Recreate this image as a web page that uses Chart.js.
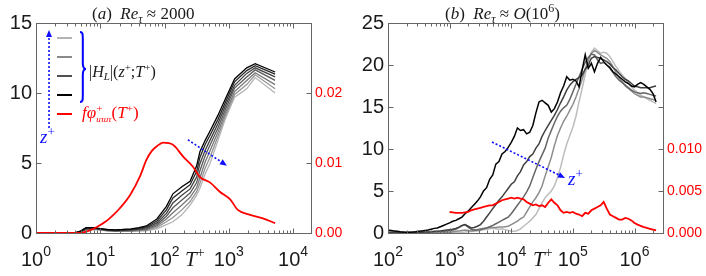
<!DOCTYPE html>
<html><head><meta charset="utf-8">
<script src="https://cdn.jsdelivr.net/npm/chart.js@4.4.1/dist/chart.umd.min.js"></script>
<style>
html,body{margin:0;padding:0;background:#fff;}
#wrap{position:relative;width:706px;height:276px;overflow:hidden;background:#fff;}
canvas{position:absolute;top:0;}
#ca{left:0;}
#cb{left:353px;}
</style></head><body>
<div id="wrap"><canvas id="ca" width="353" height="276"></canvas><canvas id="cb" width="353" height="276"></canvas></div>
<script>
// ---------------- Panel (a) data ----------------
const tA = [1,2,3,4,5,6,8,10,13,17,22,30,40,52,76,107,135,186,250,316,355,427,513,676,890,1230,1900,2570,5250];
const hA1 = [0,0,0,0,0.15,0.38,0.38,0.32,0.25,0.22,0.25,0.3,0.38,0.5,1.0,1.9,2.8,3.3,3.7,4.8,5.8,6.6,7.3,8.4,9.6,11.0,11.8,12.1,11.5];
const hA2 = [0,0,0,0,0.13,0.35,0.36,0.3,0.23,0.2,0.22,0.26,0.33,0.43,0.85,1.65,2.5,3.0,3.45,4.4,5.4,6.3,7.0,8.1,9.35,10.8,11.6,11.95,11.35];
const hA3 = [0,0,0,0,0.11,0.32,0.34,0.28,0.21,0.18,0.19,0.22,0.28,0.36,0.72,1.4,2.15,2.7,3.15,4.0,4.95,5.9,6.65,7.8,9.1,10.55,11.4,11.8,11.15];
const hA4 = [0,0,0,0,0.1,0.29,0.31,0.26,0.2,0.16,0.17,0.19,0.24,0.3,0.6,1.2,1.8,2.35,2.85,3.6,4.45,5.5,6.3,7.5,8.85,10.35,11.15,11.65,10.9];
const hA5 = [0,0,0,0,0.08,0.26,0.29,0.24,0.18,0.15,0.15,0.16,0.2,0.25,0.5,1.0,1.45,2.0,2.55,3.25,3.95,5.05,5.9,7.2,8.6,10.1,10.9,11.45,10.6];
const hA6 = [0,0,0,0,0.07,0.23,0.27,0.22,0.16,0.13,0.13,0.14,0.17,0.2,0.4,0.8,1.1,1.65,2.25,2.95,3.55,4.6,5.45,6.9,8.4,9.9,10.6,11.3,10.3];
const hA7 = [0,0,0,0,0.05,0.2,0.25,0.2,0.15,0.12,0.12,0.12,0.14,0.16,0.3,0.6,0.8,1.3,2.0,2.7,3.2,4.2,5.0,6.6,8.2,9.7,10.3,11.1,10.0];
const redAT = [1,2,3,4,4.8,6,7,9,12,16,20,29,42,52,63,76,95,135,195,275,355,513,724,1050,1380,2140,3390,5250];
const redAV = [0,0,0,0,0,0.0002,0.0004,0.0009,0.0016,0.0026,0.0035,0.0054,0.0082,0.0104,0.0117,0.0124,0.0129,0.0126,0.0109,0.0095,0.008,0.0072,0.0059,0.0048,0.0033,0.0026,0.0021,0.0014];
const xExpA = [0,1,2,3,4];
const yTicksA = [0,5,10,15];
const yRightTicksA = [0,0.01,0.02];

// ---------------- Panel (b) data ----------------
const tB = [100,112,126,141,158,178,200,224,251,282,
  316,355,398,447,501,562,631,708,794,891,
  1000,1122,1259,1413,1585,1778,1995,2239,2512,2818,
  3162,3548,3981,4467,5012,5623,6310,7079,7943,8913,
  10000,11220,12589,14125,15849,17783,19953,22387,25119,28184,
  31623,35481,39811,44668,50119,56234,63096,70795,79433,89125,
  1.0e5,1.122e5,1.259e5,1.413e5,1.585e5,1.778e5,1.995e5,2.239e5,2.512e5,2.818e5,
  3.162e5,3.548e5,3.981e5,4.467e5,5.012e5,5.623e5,6.310e5,7.079e5,7.943e5,8.913e5,
  1.0e6,1.122e6,1.259e6,1.413e6,1.585e6,1.778e6,1.995e6,2.239e6];
const hB1 = [0.35,0.3,0.25,0.2,0.15,0.12,0.1,0.1,0.12,0.15,
  0.2,0.25,0.3,0.35,0.45,0.55,0.6,0.75,0.9,1.05,
  1.2,1.4,1.5,1.7,1.9,2.3,2.6,3.0,3.4,3.8,
  4.3,5.0,5.4,6.4,6.9,8.2,8.5,9.4,9.7,10.2,
  10.8,11.5,12.5,12.2,12.3,11.8,12.0,12.8,14.3,15.6,
  15.8,15.5,15.2,14.4,14.8,15.6,16.7,17.5,18.6,18.2,
  18.3,18.1,17.4,19.4,21.2,19.6,20.2,19.2,20.2,20.9,
  20.4,20.0,19.7,19.2,18.9,18.6,18.3,18.0,17.8,17.5,
  17.4,17.7,17.9,17.7,17.4,17.1,16.6,15.6];
const hB2 = [0.1,0.1,0.08,0.08,0.06,0.06,0.05,0.05,0.06,0.08,
  0.1,0.1,0.12,0.13,0.15,0.2,0.22,0.25,0.3,0.35,
  0.4,0.45,0.55,0.7,0.9,1.0,0.8,0.6,0.65,0.8,
  1.0,1.4,1.9,2.4,2.9,3.4,3.9,4.3,4.8,5.3,
  5.8,6.1,6.8,7.3,8.1,8.5,9.1,9.4,10.1,10.6,
  11.5,12.2,12.8,13.4,14.0,14.7,15.5,16.2,17.0,17.6,
  18.0,18.3,18.5,18.8,19.5,20.0,20.8,21.0,20.9,20.8,
  20.6,20.4,20.1,19.7,19.4,19.0,18.6,18.3,18.1,17.8,
  17.5,17.4,17.3,17.3,17.3,17.3,17.4,17.5];
const hB3 = [0.05,0.05,0.05,0.05,0.05,0.05,0.05,0.05,0.05,0.05,
  0.06,0.06,0.08,0.1,0.12,0.15,0.18,0.2,0.22,0.25,
  0.3,0.35,0.45,0.65,0.85,1.0,0.7,0.45,0.35,0.35,
  0.4,0.5,0.6,0.75,0.9,1.1,1.3,1.5,1.7,1.9,
  2.3,2.8,3.3,3.8,4.3,4.9,5.6,6.6,7.6,8.5,
  9.3,10.1,11.3,12.2,13.1,13.9,14.5,14.9,15.2,15.9,
  16.8,17.7,18.6,19.5,20.3,20.9,21.3,21.2,20.6,20.2,
  20.3,20.0,19.6,19.1,18.6,18.2,17.9,17.6,17.3,17.0,
  16.8,16.7,16.6,16.7,16.6,16.5,16.4,16.3];
const hB4 = [0.03,0.03,0.03,0.03,0.03,0.03,0.03,0.03,0.03,0.03,
  0.04,0.04,0.05,0.05,0.06,0.06,0.07,0.08,0.09,0.1,
  0.1,0.15,0.2,0.25,0.3,0.35,0.3,0.25,0.3,0.4,
  0.5,0.55,0.6,0.65,0.65,0.65,0.7,0.7,0.75,0.8,
  1.0,1.2,1.4,1.7,1.9,2.5,3.1,3.7,4.2,4.8,
  5.6,6.8,7.9,9.0,10.4,11.6,12.5,13.3,13.9,14.6,
  15.3,16.2,17.2,18.3,19.5,20.6,21.4,21.7,21.5,21.2,
  21.0,20.8,20.4,19.8,19.1,18.5,18.0,17.5,17.2,16.9,
  16.6,16.4,16.2,16.2,16.1,16.0,15.9,15.8];
const hB5 = [0.02,0.02,0.02,0.02,0.02,0.02,0.02,0.02,0.02,0.02,
  0.02,0.02,0.03,0.03,0.03,0.04,0.04,0.04,0.05,0.05,
  0.05,0.06,0.07,0.08,0.1,0.12,0.15,0.17,0.2,0.25,
  0.3,0.4,0.45,0.5,0.55,0.5,0.45,0.5,0.4,0.3,
  0.2,0.2,0.3,0.5,0.8,1.1,1.4,1.8,2.2,2.9,
  3.6,4.2,4.6,5.0,5.6,6.6,7.8,9.3,10.6,11.6,
  12.6,13.9,15.6,17.2,18.9,20.4,21.5,22.0,21.7,21.4,
  21.5,21.4,21.0,20.4,19.8,19.3,18.8,18.4,17.8,17.4,
  17.0,16.7,16.4,16.2,16.0,15.8,15.6,15.4];
const redBV = [null,null,null,null,null,null,null,null,null,null,
  null,null,null,null,null,null,null,null,null,null,
  0.0025,0.00245,0.0024,0.0024,0.0024,0.00245,0.0025,0.0027,0.0028,0.0029,
  0.0030,0.0031,0.0032,0.0033,0.0033,0.0035,0.0037,0.0039,0.0040,0.0041,
  0.0042,0.0041,0.0042,0.0041,0.0040,0.0037,0.0035,0.0033,0.0034,0.0032,
  0.0033,0.0031,0.0036,0.0040,0.0036,0.0033,0.0027,0.0024,0.0025,0.0024,
  0.0025,0.0023,0.0022,0.0020,0.0024,0.0023,0.0027,0.0029,0.0031,0.0033,
  0.0037,0.0029,0.0022,0.0020,0.0018,0.0016,0.0016,0.0018,0.0017,0.0015,
  0.0012,0.0010,0.00085,0.0007,0.0006,0.0005,0.0004,0.0003];
const xExpB = [2,3,4,5,6];
const yTicksB = [0,5,10,15,20,25];
const yRightTicksB = [0,0.005,0.01];

// annotation anchors (data coordinates)
const arrowA = {x0:231, y0:6.66, x1:934, y1:4.81};
const arrowB = {x0:4875, y0:10.83, x1:74600, y1:6.55};

const SERIF = '"Liberation Serif","DejaVu Serif",serif';
const SANS = '"Liberation Sans",Arial,sans-serif';
const F = (sz, it, fam) => (it ? 'italic ' : '') + sz + 'px ' + (fam || SERIF);
const BLUE = '#1010ff';

function rich(ctx, x, y, segs, color, align) {
  let cx = 0, ps = 0, pe = 0; const items = [];
  for (const s of segs) {
    ctx.font = s[1];
    const w = ctx.measureText(s[0]).width;
    const back = s[3];
    const sx = back ? ps : cx;
    const end = sx + w;
    items.push([s[0], s[1], s[2] || 0, sx]);
    if (back) { pe = Math.max(pe, end); cx = pe; } else { ps = sx; pe = end; cx = end; }
  }
  const ox = align === 'center' ? x - cx / 2 : (align === 'right' ? x - cx : x);
  ctx.fillStyle = color; ctx.textBaseline = 'alphabetic'; ctx.textAlign = 'left';
  for (const it of items) { ctx.font = it[1]; ctx.fillText(it[0], ox + it[3], y + it[2]); }
  return cx;
}

function arrow(ctx, x0, y0, x1, y1, color) {
  ctx.save();
  ctx.strokeStyle = color; ctx.fillStyle = color; ctx.lineWidth = 1.6;
  ctx.setLineDash([2, 2]);
  const ang = Math.atan2(y1 - y0, x1 - x0);
  const hl = 7, hw = 3;
  const bx = x1 - hl * Math.cos(ang), by = y1 - hl * Math.sin(ang);
  ctx.beginPath(); ctx.moveTo(x0, y0); ctx.lineTo(bx, by); ctx.stroke();
  ctx.setLineDash([]);
  ctx.beginPath(); ctx.moveTo(x1, y1);
  ctx.lineTo(bx + hw * Math.sin(ang), by - hw * Math.cos(ang));
  ctx.lineTo(bx - hw * Math.sin(ang), by + hw * Math.cos(ang));
  ctx.closePath(); ctx.fill();
  ctx.restore();
}

function panelPlugin(cfg) {
  return {
    id: 'panel_' + cfg.name,
    afterDraw(chart) {
      const ctx = chart.ctx, a = chart.chartArea;
      const xs = chart.scales.x, ys = chart.scales.y;
      ctx.save();
      const L = Math.round(a.left) + 0.5, R = Math.round(a.right) + 0.5;
      const T = Math.round(a.top) + 0.5, B = Math.round(a.bottom) + 0.5;
      ctx.strokeStyle = '#666666'; ctx.lineWidth = 1;
      ctx.strokeRect(L, T, R - L, B - T);
      ctx.beginPath();
      const lo = Math.floor(Math.log10(xs.min)), hi = Math.ceil(Math.log10(xs.max));
      for (let d = lo; d <= hi; d++) {
        for (let m = 1; m <= 9; m++) {
          const v = m * Math.pow(10, d);
          if (v < xs.min * 0.999 || v > xs.max * 1.001) continue;
          const px = Math.round(xs.getPixelForValue(v)) + 0.5;
          const len = m === 1 ? 5 : 3;
          ctx.moveTo(px, B); ctx.lineTo(px, B - len);
          ctx.moveTo(px, T); ctx.lineTo(px, T + len);
        }
      }
      for (const v of cfg.yTicks) {
        const py = Math.round(ys.getPixelForValue(v)) + 0.5;
        ctx.moveTo(L, py); ctx.lineTo(L + 5, py);
        ctx.moveTo(R, py); ctx.lineTo(R - 5, py);
      }
      ctx.stroke();
      for (const e of cfg.xExp) {
        const px = xs.getPixelForValue(Math.pow(10, e));
        rich(ctx, px, 266, [['10', '20px ' + SANS, 0], [String(e), '14px ' + SANS, -10]], '#1a1a1a', 'center');
      }
      rich(ctx, cfg.tLabelX, 266, [['T', F(21, true), 0], ['+', F(14, false), -9]], '#1a1a1a', 'left');
      rich(ctx, cfg.titleX, 19, cfg.title, '#1a1a1a', 'left');
      cfg.extra(ctx, chart);
      ctx.restore();
    }
  };
}

function makeChart(id, cfg) {
  const datasets = [];
  datasets.push({
    data: cfg.redT.map((t, i) => ({x: t, y: cfg.redV[i]})),
    borderColor: '#ff0000', borderWidth: 1.8, pointRadius: 0, yAxisID: 'y2', spanGaps: false,
    cubicInterpolationMode: cfg.redSmooth ? 'monotone' : 'default', tension: 0
  });
  cfg.series.forEach((s, k) => {
    datasets.push({
      data: cfg.t.map((t, i) => ({x: t, y: s[i]})),
      borderColor: cfg.colors[k], borderWidth: cfg.lw, pointRadius: 0, yAxisID: 'y'
    });
  });
  return new Chart(document.getElementById(id), {
    type: 'line',
    data: {datasets},
    options: {
      responsive: false, animation: false, events: [],
      layout: {padding: {top: 23, left: 0, right: 0, bottom: 0}},
      plugins: {legend: {display: false}, tooltip: {enabled: false}, title: {display: false}},
      scales: {
        x: {type: 'logarithmic', min: cfg.xmin, max: cfg.xmax,
            grid: {display: false, drawTicks: false}, border: {display: false},
            ticks: {display: false}, afterFit: s => { s.height = 43; }},
        y: {type: 'linear', position: 'left', min: 0, max: cfg.ymax,
            grid: {display: false, drawTicks: false}, border: {display: false},
            afterBuildTicks: s => { s.ticks = cfg.yTicks.map(v => ({value: v})); },
            ticks: {padding: 4, color: '#1a1a1a', font: {family: '"Liberation Sans",Arial,sans-serif', size: 20},
                    callback: v => String(v)},
            afterFit: s => { s.width = cfg.leftW; }},
        y2: {type: 'linear', position: 'right', min: 0, max: cfg.y2max,
            grid: {display: false, drawTicks: false}, border: {display: false},
            afterBuildTicks: s => { s.ticks = cfg.rightTicks.map(v => ({value: v})); },
            ticks: {padding: 4, color: '#ff0000', font: {family: '"Liberation Sans",Arial,sans-serif', size: 14},
                    callback: v => v.toFixed(cfg.rightDec)},
            afterFit: s => { s.width = cfg.rightW; }}
      }
    },
    plugins: [panelPlugin(cfg)]
  });
}

makeChart('ca', {
  name: 'a', t: tA, series: [hA1, hA2, hA3, hA4, hA5, hA6, hA7],
  colors: ['#000000', '#262626', '#404040', '#5a5a5a', '#777777', '#949494', '#b4b4b4'], lw: 1.3,
  redT: redAT, redV: redAV, redSmooth: true,
  xmin: 1, xmax: 1.9e4, ymax: 15, y2max: 0.03, yTicks: yTicksA, rightTicks: yRightTicksA, rightDec: 2,
  leftW: 36, rightW: 42, xExp: xExpA, tLabelX: 185, titleX: 92,
  title: [['(', F(17), 0], ['a', F(17, true), 0], [')', F(17), 0], ['  ', F(17), 0], ['Re', F(17, true), 0],
          ['τ', F(12, true), 4], [' ≈ ', F(17), 0], ['2000', F(17), 0]],
  extra(ctx, chart) {
    const xs = chart.scales.x, ys = chart.scales.y;
    const legY = [38, 57, 76, 95];
    const legC = ['#b4b4b4', '#8a8a8a', '#505050', '#000000'];
    ctx.lineWidth = 2;
    legY.forEach((y, i) => { ctx.strokeStyle = legC[i]; ctx.beginPath(); ctx.moveTo(57, y); ctx.lineTo(72, y); ctx.stroke(); });
    ctx.strokeStyle = '#ff0000'; ctx.beginPath(); ctx.moveTo(57, 114); ctx.lineTo(72, 114); ctx.stroke();
    ctx.strokeStyle = '#0000ff'; ctx.lineWidth = 2;
    const bx = 80, y0 = 32, y1 = 102, ym = 69, w = 6, mx = bx + 2.8;
    ctx.beginPath();
    ctx.moveTo(bx, y0); ctx.bezierCurveTo(mx, y0, mx, y0 + 2, mx, y0 + 7);
    ctx.lineTo(mx, ym - 6); ctx.bezierCurveTo(mx, ym - 2, mx + 1, ym, bx + w, ym);
    ctx.moveTo(bx + w, ym); ctx.bezierCurveTo(mx + 1, ym, mx, ym + 2, mx, ym + 6);
    ctx.lineTo(mx, y1 - 7); ctx.bezierCurveTo(mx, y1 - 2, mx, y1, bx, y1);
    ctx.stroke();
    rich(ctx, 89, 77, [['|', F(16), 0], ['H', F(16, true), 0], ['L', F(11, true), 3], ['|(', F(16), 0],
      ['z', F(16, true), 0], ['+', F(11), -6], [';', F(16), 0], ['T', F(16, true), 0], ['+', F(11), -6], [')', F(16), 0]], '#1a1a1a', 'left');
    rich(ctx, 82, 118, [['f', F(17, true), 0], ['φ', F(17, true), 0], ['+', F(11), -6], ['uτuτ', F(9, true), 4, true],
      ['(', F(17), 0], ['T', F(17, true), 0], ['+', F(11), -6], [')', F(17), 0]], '#ff0000', 'left');
    arrow(ctx, 49, 128, 49, 30, BLUE);
    rich(ctx, 40, 143, [['z', F(19, true), 0], ['+', F(13), -7]], BLUE, 'left');
    arrow(ctx, xs.getPixelForValue(arrowA.x0), ys.getPixelForValue(arrowA.y0),
          xs.getPixelForValue(arrowA.x1), ys.getPixelForValue(arrowA.y1), BLUE);
  }
});

makeChart('cb', {
  name: 'b', t: tB, series: [hB1, hB2, hB3, hB4, hB5],
  colors: ['#000000', '#404040', '#666666', '#8c8c8c', '#bdbdbd'], lw: 1.5,
  redT: tB, redV: redBV, redSmooth: false,
  xmin: 100, xmax: 2.9e6, ymax: 25, y2max: 0.025, yTicks: yTicksB, rightTicks: yRightTicksB, rightDec: 3,
  leftW: 35, rightW: 43, xExp: xExpB, tLabelX: 180, titleX: 92,
  title: [['(', F(17), 0], ['b', F(17, true), 0], [')', F(17), 0], ['  ', F(17), 0], ['Re', F(17, true), 0],
          ['τ', F(12, true), 4], [' ≈ ', F(17), 0], ['O', F(17, true), 0], ['(10', F(17), 0], ['6', F(12), -7], [')', F(17), 0]],
  extra(ctx, chart) {
    const xs = chart.scales.x, ys = chart.scales.y;
    const x1 = xs.getPixelForValue(arrowB.x1), y1 = ys.getPixelForValue(arrowB.y1);
    arrow(ctx, xs.getPixelForValue(arrowB.x0), ys.getPixelForValue(arrowB.y0), x1, y1, BLUE);
    rich(ctx, x1 + 3, y1 + 7, [['z', F(19, true), 0], ['+', F(13), -7]], BLUE, 'left');
  }
});
</script>
</body></html>
